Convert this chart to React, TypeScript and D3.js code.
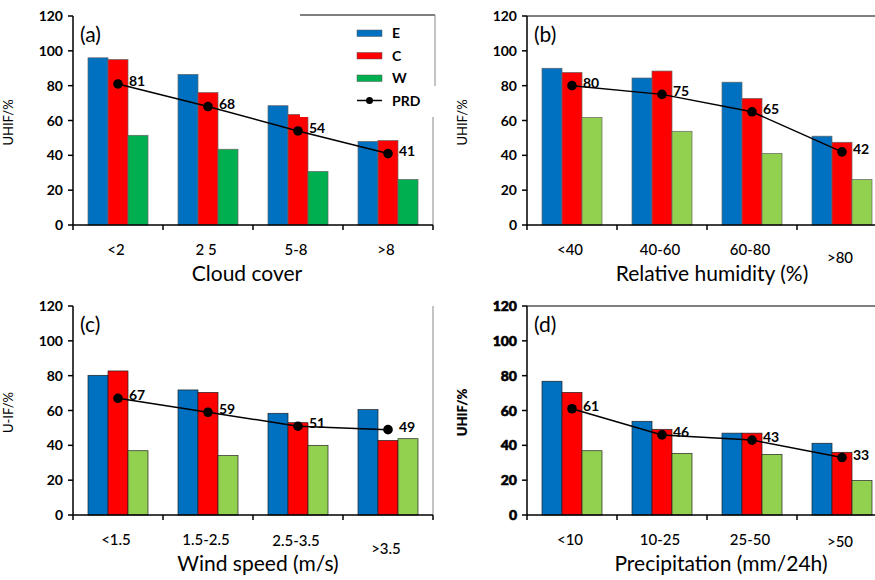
import React from "react";
import * as d3 from "d3";

// ---------- data ----------
const catsA = ["<2", "2 5", "5-8", ">8"];
const eA = [96, 86.5, 68.5, 48];
const cA = [95, 76, 63.5, 48.5];
const wA = [51.5, 43.5, 30.8, 26.2];
const prdA = [81, 68, 54, 41];

const catsB = ["<40", "40-60", "60-80", ">80"];
const eB = [90, 84.4, 82, 51];
const cB = [87.6, 88.4, 72.7, 47.5];
const wB = [61.8, 53.8, 41.1, 26.2];
const prdB = [80, 75, 65, 42];

const catsC = ["<1.5", "1.5-2.5", "2.5-3.5", ">3.5"];
const eC = [80.2, 71.8, 58.4, 60.5];
const cC = [82.7, 70.4, 53, 42.8];
const wC = [36.9, 34.1, 40, 43.8];
const prdC = [67, 59, 51, 49];

const catsD = ["<10", "10-25", "25-50", ">50"];
const eD = [76.8, 53.8, 47, 41.2];
const cD = [70.4, 49.2, 47, 36];
const wD = [36.9, 35.4, 34.8, 19.8];
const prdD = [61, 46, 43, 33];

const yTicks = [0, 20, 40, 60, 80, 100, 120];
const seriesNames = ["E", "C", "W"];

const BLUE = "#0070C0";
const RED = "#FF0000";
const GREEN_DARK = "#00B050";
const GREEN_LIGHT = "#92D050";
const FONT = "Lato, 'Open Sans', sans-serif";

type PanelProps = {
  x0: number;
  top: number;
  bottom: number;
  cats: string[];
  series: number[][];
  prd: number[];
  green: string;
  tag: string;
  xTitle: string;
  yTitle: string;
  xTitleDx: number;
  topBorder: boolean;
  rightBorder: boolean;
  boldTicks?: boolean;
  labelDy?: number[];
  barStroke: string;
};

function Panel(p: PanelProps) {
  const band = 90;
  const x = d3
    .scaleBand<string>()
    .domain(p.cats)
    .range([p.x0, p.x0 + band * p.cats.length])
    .paddingInner(0)
    .paddingOuter(0);
  const inner = d3
    .scaleBand<string>()
    .domain(seriesNames)
    .range([15, 75]);
  const y = d3.scaleLinear().domain([0, 120]).range([p.bottom, p.top]);
  const colors = [BLUE, RED, p.green];
  const right = p.x0 + band * p.cats.length;
  const line = d3
    .line<number>()
    .x((_, i) => (x(p.cats[i]) as number) + band / 2)
    .y((v) => y(v));
  const midY = (p.top + p.bottom) / 2;
  return (
    <g>
      {/* bars */}
      {p.series.map((vals, si) =>
        vals.map((v, ci) => (
          <rect
            key={`${si}-${ci}`}
            x={(x(p.cats[ci]) as number) + (inner(seriesNames[si]) as number)}
            y={y(v)}
            width={inner.bandwidth()}
            height={p.bottom - y(v)}
            fill={colors[si]}
            stroke={p.barStroke}
            strokeWidth={0.7}
          />
        ))
      )}
      {/* borders */}
      {p.topBorder && (
        <line x1={p.x0} x2={Math.min(right, 875)} y1={p.top} y2={p.top} stroke="#000" strokeWidth={1} />
      )}
      {p.rightBorder && (
        <line x1={right} x2={right} y1={p.top} y2={p.bottom} stroke="#888" strokeWidth={1} />
      )}
      {/* y axis */}
      <line x1={p.x0} x2={p.x0} y1={p.top} y2={p.bottom} stroke="#000" strokeWidth={1.5} />
      {yTicks.map((t) => (
        <g key={t}>
          <line x1={p.x0 - 5} x2={p.x0} y1={y(t)} y2={y(t)} stroke="#000" strokeWidth={1.5} />
          <text
            x={p.x0 - 10}
            y={y(t) + 5}
            textAnchor="end"
            fontFamily={FONT}
            fontWeight={p.boldTicks ? 900 : 700}
            fontSize={14}
            fill="#000"
            stroke={p.boldTicks ? "#000" : "none"}
            strokeWidth={p.boldTicks ? 0.6 : 0}
          >
            {t}
          </text>
        </g>
      ))}
      {/* x axis */}
      <line x1={p.x0} x2={right} y1={p.bottom} y2={p.bottom} stroke="#000" strokeWidth={1.5} />
      {d3.range(p.cats.length + 1).map((i) => (
        <line
          key={i}
          x1={p.x0 + i * band}
          x2={p.x0 + i * band}
          y1={p.bottom}
          y2={p.bottom + 5}
          stroke="#000"
          strokeWidth={1.5}
        />
      ))}
      {p.cats.map((c, i) => (
        <text
          key={c}
          x={(x(c) as number) + band / 2 - 2}
          y={p.bottom + 30 + (p.labelDy ? p.labelDy[i] : 0)}
          textAnchor="middle"
          fontFamily={FONT}
          fontSize={15}
          fontWeight={500}
          fill="#000"
        >
          {c}
        </text>
      ))}
      {/* axis titles */}
      <text
        x={p.x0 + 180 + p.xTitleDx}
        y={p.bottom + 56}
        textAnchor="middle"
        fontFamily={FONT}
        fontSize={21}
        fill="#000"
      >
        {p.xTitle}
      </text>
      <text
        transform={`translate(${p.x0 - 60},${midY + 2}) rotate(-90)`}
        textAnchor="middle"
        fontFamily={FONT}
        fontSize={13}
        fontWeight={p.boldTicks ? 800 : 400}
        fill="#000"
      >
        {p.yTitle}
      </text>
      {/* tag */}
      <text x={p.x0 + 7} y={p.top + 26} fontFamily={FONT} fontSize={21} fill="#000">
        {p.tag}
      </text>
      {/* PRD line */}
      <path d={line(p.prd) || ""} fill="none" stroke="#000" strokeWidth={1.5} />
      {p.prd.map((v, i) => (
        <g key={i}>
          <circle cx={(x(p.cats[i]) as number) + band / 2} cy={y(v)} r={4.8} fill="#000" />
          <text
            x={(x(p.cats[i]) as number) + band / 2 + 11}
            y={y(v) + 2}
            fontFamily={FONT}
            fontSize={14}
            fontWeight={700}
            fill="#000"
          >
            {v}
          </text>
        </g>
      ))}
    </g>
  );
}

function Legend() {
  const items = [
    { name: "E", color: BLUE },
    { name: "C", color: RED },
    { name: "W", color: GREEN_DARK },
  ];
  const lx = 357;
  const ly = 33;
  const step = 22.5;
  return (
    <g>
      <rect x={300} y={15} width={135} height={102} fill="#fff" />
      <line x1={300} x2={435} y1={15} y2={15} stroke="#000" strokeWidth={1} />
      <line x1={435} x2={435} y1={15} y2={86} stroke="#888" strokeWidth={1} />
      {items.map((it, i) => (
        <g key={it.name}>
          <rect x={lx} y={ly + i * step - 3} width={25} height={6.5} fill={it.color} stroke="#555" strokeWidth={0.5} />
          <text x={lx + 35} y={ly + i * step + 5} fontFamily={FONT} fontSize={14} fontWeight={700} fill="#000">
            {it.name}
          </text>
        </g>
      ))}
      <line x1={lx} x2={lx + 25} y1={ly + 3 * step} y2={ly + 3 * step} stroke="#000" strokeWidth={1.5} />
      <circle cx={lx + 12.5} cy={ly + 3 * step} r={3.5} fill="#000" />
      <text x={lx + 35} y={ly + 3 * step + 5} fontFamily={FONT} fontSize={14} fontWeight={700} fill="#000">
        PRD
      </text>
    </g>
  );
}

export default function App() {
  return (
    <svg
      width={875}
      height={580}
      style={{ position: "absolute", left: 0, top: 0, background: "#fff" }}
    >
      <rect width={875} height={580} fill="#fff" />
      <Panel
        x0={73}
        top={16}
        bottom={225}
        cats={catsA}
        series={[eA, cA, wA]}
        prd={prdA}
        green={GREEN_DARK}
        tag="(a)"
        xTitle="Cloud cover"
        yTitle="UHIF/%"
        xTitleDx={-6}
        topBorder={false}
        rightBorder={true}
        barStroke="#666"
      />
      <Legend />
      <Panel
        x0={527}
        top={16}
        bottom={225}
        cats={catsB}
        series={[eB, cB, wB]}
        prd={prdB}
        green={GREEN_LIGHT}
        tag="(b)"
        xTitle="Relative humidity (%)"
        yTitle="UHIF/%"
        xTitleDx={5}
        topBorder={true}
        rightBorder={false}
        labelDy={[0, 0, 0, 8]}
        barStroke="#666"
      />
      <Panel
        x0={73}
        top={306}
        bottom={515}
        cats={catsC}
        series={[eC, cC, wC]}
        prd={prdC}
        green={GREEN_LIGHT}
        tag="(c)"
        xTitle="Wind speed (m/s)"
        yTitle="U-IF/%"
        xTitleDx={5}
        topBorder={false}
        rightBorder={true}
        labelDy={[0, 0, 1, 9]}
        barStroke="#222"
      />
      <Panel
        x0={527}
        top={306}
        bottom={515}
        cats={catsD}
        series={[eD, cD, wD]}
        prd={prdD}
        green={GREEN_LIGHT}
        tag="(d)"
        xTitle="Precipitation (mm/24h)"
        yTitle="UHIF/%"
        xTitleDx={14}
        topBorder={true}
        rightBorder={false}
        boldTicks={true}
        labelDy={[0, 0, 0, 2]}
        barStroke="#222"
      />
    </svg>
  );
}
